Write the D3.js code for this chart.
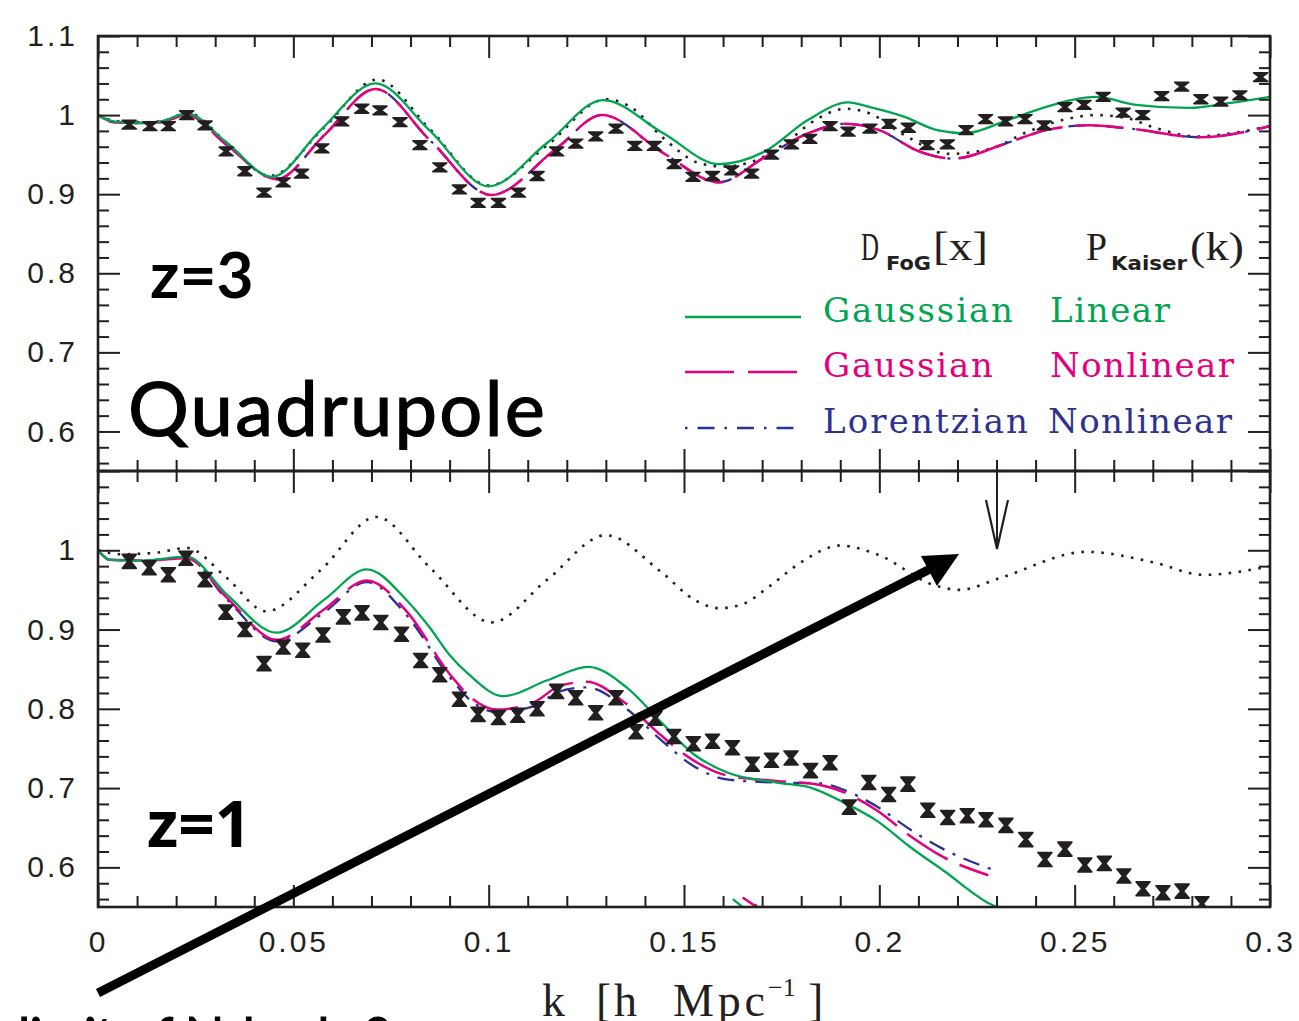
<!DOCTYPE html>
<html>
<head>
<meta charset="utf-8">
<script src="https://cdn.jsdelivr.net/npm/d3@7"></script>
<style>
  body { margin: 0; background: #fff; }
  svg { display: block; }
</style>
</head>
<body>
<svg id="chart" width="1299" height="1021"></svg>
<script>
// ---- data ----
// top panel, z=3
var topDotK   = [0, 0.005, 0.012, 0.017, 0.023, 0.033, 0.044, 0.058, 0.0715, 0.085, 0.1, 0.115, 0.13, 0.1364, 0.1447, 0.154, 0.16, 0.168, 0.176, 0.184, 0.1914, 0.1976, 0.2063, 0.218, 0.2289, 0.2371, 0.2471, 0.2553, 0.2635, 0.2699, 0.2817, 0.29, 0.3];
var topDotV   = [1.0, 0.992, 0.991, 0.993, 1.003, 0.965, 0.923, 0.985, 1.045, 0.982, 0.911, 0.962, 1.020, 1.010, 0.971, 0.939, 0.935, 0.942, 0.965, 0.995, 1.008, 1.002, 0.975, 0.951, 0.958, 0.977, 0.994, 1.0, 0.996, 0.985, 0.973, 0.977, 0.986];
var topGreenK = [0, 0.004, 0.01, 0.016, 0.0228, 0.033, 0.0445, 0.057, 0.071, 0.085, 0.1, 0.115, 0.1293, 0.1447, 0.159, 0.1707, 0.1818, 0.192, 0.1976, 0.2063, 0.2148, 0.222, 0.232, 0.240, 0.2491, 0.2554, 0.2657, 0.2793, 0.2895, 0.3];
var topGreenV = [1.0, 0.992, 0.990, 0.992, 1.002, 0.965, 0.922, 0.981, 1.040, 0.980, 0.910, 0.965, 1.019, 0.977, 0.938, 0.954, 0.994, 1.016, 1.010, 0.998, 0.981, 0.977, 0.992, 1.006, 1.019, 1.023, 1.013, 1.009, 1.015, 1.023];
var topMagK   = [0, 0.004, 0.01, 0.016, 0.0228, 0.033, 0.0457, 0.058, 0.071, 0.085, 0.1007, 0.1174, 0.129, 0.1447, 0.159, 0.1707, 0.1818, 0.1912, 0.2, 0.2102, 0.219, 0.2323, 0.2426, 0.2537, 0.2639, 0.282, 0.3];
var topMagV   = [1.0, 0.991, 0.990, 0.991, 1.000, 0.962, 0.919, 0.975, 1.033, 0.968, 0.899, 0.958, 1.000, 0.952, 0.915, 0.947, 0.977, 0.989, 0.981, 0.954, 0.945, 0.964, 0.981, 0.987, 0.983, 0.972, 0.986];
var topBlueV  = [1.0, 0.991, 0.990, 0.991, 1.000, 0.962, 0.919, 0.975, 1.033, 0.968, 0.899, 0.958, 1.000, 0.952, 0.915, 0.947, 0.977, 0.989, 0.981, 0.954, 0.945, 0.964, 0.981, 0.987, 0.983, 0.972, 0.986];
var topPtsK = [0.0080,0.0133,0.0180,0.0227,0.0274,0.0328,0.0376,0.0425,0.0474,0.0521,0.0573,0.0624,0.0675,0.0722,0.0773,0.0824,0.0875,0.0925,0.0973,0.1025,0.1076,0.1124,0.1174,0.1223,0.1274,0.1326,0.1374,0.1424,0.1475,0.1523,0.1573,0.1622,0.1673,0.1724,0.1775,0.1822,0.1874,0.1920,0.1976,0.2025,0.2074,0.2122,0.2174,0.2222,0.2272,0.2323,0.2373,0.2422,0.2475,0.2524,0.2573,0.2624,0.2674,0.2723,0.2774,0.2823,0.2874,0.2923,0.2976];
var topPtsV = [0.988,0.986,0.986,1.000,0.987,0.954,0.929,0.902,0.915,0.926,0.958,0.992,1.008,1.006,0.991,0.962,0.934,0.906,0.889,0.889,0.902,0.923,0.954,0.964,0.973,0.983,0.961,0.961,0.938,0.922,0.923,0.930,0.926,0.950,0.963,0.970,0.986,0.979,0.983,0.989,0.984,0.962,0.963,0.981,0.995,0.992,0.995,0.987,1.010,1.013,1.023,1.003,1.000,1.024,1.036,1.020,1.017,1.025,1.048];
var topErr = 0.0055;

// bottom panel, z=1
var botDotK   = [0, 0.006, 0.015, 0.0227, 0.033, 0.043, 0.057, 0.0713, 0.085, 0.1008, 0.115, 0.130, 0.1438, 0.1532, 0.159, 0.165, 0.172, 0.18, 0.19, 0.1993, 0.2146, 0.2206, 0.2309, 0.253, 0.27, 0.283, 0.3];
var botDotV   = [1.0, 0.995, 0.997, 1.003, 0.965, 0.923, 0.975, 1.042, 0.978, 0.909, 0.963, 1.019, 0.974, 0.936, 0.927, 0.932, 0.955, 0.985, 1.006, 0.995, 0.955, 0.950, 0.965, 0.998, 0.985, 0.969, 0.980];
var botGreenK = [0, 0.003, 0.0115, 0.0227, 0.033, 0.0457, 0.058, 0.0688, 0.079, 0.085, 0.09, 0.095, 0.1037, 0.115, 0.1255, 0.1353, 0.1438, 0.1524, 0.1609, 0.1737, 0.1822, 0.1908, 0.1993, 0.2078, 0.2164, 0.2283, 0.232];
var botGreenV = [1.0, 0.988, 0.987, 0.992, 0.944, 0.896, 0.938, 0.976, 0.937, 0.902, 0.868, 0.843, 0.816, 0.836, 0.853, 0.827, 0.785, 0.743, 0.720, 0.707, 0.701, 0.682, 0.659, 0.626, 0.596, 0.554, 0.546];
var botMagK   = [0, 0.003, 0.0115, 0.0227, 0.033, 0.0457, 0.058, 0.0688, 0.079, 0.09, 0.096, 0.102, 0.1115, 0.1182, 0.125, 0.1353, 0.1438, 0.1524, 0.1609, 0.1737, 0.1848, 0.1908, 0.1993, 0.2078, 0.2164, 0.2279];
var botMagV   = [1.0, 0.988, 0.987, 0.990, 0.940, 0.887, 0.926, 0.962, 0.923, 0.844, 0.812, 0.799, 0.808, 0.829, 0.834, 0.806, 0.768, 0.735, 0.716, 0.709, 0.704, 0.695, 0.672, 0.640, 0.613, 0.590];
var botBlueK  = [0, 0.003, 0.0115, 0.0227, 0.033, 0.0457, 0.058, 0.0688, 0.079, 0.09, 0.096, 0.102, 0.1115, 0.1182, 0.125, 0.1353, 0.1438, 0.1524, 0.1609, 0.1737, 0.1848, 0.1908, 0.1993, 0.2078, 0.2164, 0.2291];
var botBlueV  = [1.0, 0.988, 0.987, 0.990, 0.938, 0.885, 0.922, 0.960, 0.918, 0.840, 0.808, 0.796, 0.803, 0.822, 0.827, 0.800, 0.762, 0.728, 0.711, 0.707, 0.706, 0.698, 0.677, 0.648, 0.623, 0.597];
// short curve pieces poking in just above the k axis
var stubGreenK = [0.1625, 0.1660], stubGreenV = [0.560, 0.546];
var stubMagK   = [0.1650, 0.1698], stubMagV   = [0.562, 0.546];
var stubBlueK  = [0.1680, 0.1702], stubBlueV  = [0.553, 0.547];
var botPtsK = [0.0080,0.0131,0.0180,0.0225,0.0274,0.0327,0.0376,0.0425,0.0474,0.0524,0.0576,0.0628,0.0676,0.0724,0.0777,0.0826,0.0875,0.0925,0.0973,0.1025,0.1074,0.1124,0.1174,0.1223,0.1274,0.1326,0.1377,0.1426,0.1474,0.1524,0.1573,0.1624,0.1675,0.1724,0.1774,0.1824,0.1874,0.1923,0.1973,0.2024,0.2073,0.2124,0.2175,0.2225,0.2273,0.2324,0.2375,0.2424,0.2475,0.2526,0.2576,0.2626,0.2675,0.2726,0.2775,0.2826,0.1822];
var botPtsV = [0.986,0.978,0.969,0.990,0.963,0.922,0.900,0.857,0.878,0.874,0.893,0.916,0.921,0.909,0.894,0.861,0.843,0.812,0.793,0.789,0.792,0.800,0.822,0.814,0.795,0.814,0.771,0.788,0.765,0.756,0.759,0.751,0.730,0.735,0.738,0.722,0.732,0.676,0.707,0.692,0.705,0.672,0.663,0.665,0.660,0.653,0.635,0.610,0.623,0.603,0.605,0.589,0.573,0.568,0.570,0.554,0.541];
var botErr = 0.0088;

var xMajor = [0, 0.05, 0.1, 0.15, 0.2, 0.25, 0.3];
var yMajor = [0.6, 0.7, 0.8, 0.9, 1.0, 1.1];

var legendRows = [
  {fog: "Gausssian",  kaiser: "Linear",    color: "#00a551", style: "solid"},
  {fog: "Gaussian",   kaiser: "Nonlinear", color: "#e6007e", style: "dash"},
  {fog: "Lorentzian", kaiser: "Nonlinear", color: "#2e3192", style: "dashdot"}
];

// ---- layout ----
var svg = d3.select("#chart");
var left = 98, right = 1270, top0 = 36, mid = 471, bot = 907;
var ink = "#231f20";
var green = "#00a551", magenta = "#e6007e", blue = "#2e3192";

var x = d3.scaleLinear().domain([0, 0.3]).range([left, right]);
var yTop = d3.scaleLinear().domain([0.55, 1.1]).range([mid, top0]);
var yBot = d3.scaleLinear().domain([0.55, 1.1]).range([bot, mid]);

var defs = svg.append("defs");
defs.append("clipPath").attr("id", "clipTop").append("rect")
  .attr("x", left).attr("y", top0).attr("width", right - left).attr("height", mid - top0);
defs.append("clipPath").attr("id", "clipBot").append("rect")
  .attr("x", left).attr("y", mid).attr("width", right - left).attr("height", bot - mid);

var styles = {
  dot:     {color: ink,     width: 2.6, dash: "2.6,7.4"},
  solid:   {color: green,   width: 2.3, dash: null},
  dash:    {color: magenta, width: 2.5, dash: "48,13"},
  dashdot: {color: blue,    width: 2.3, dash: "3,9,17,9"}
};

function pairs(ks, vs) { return ks.map(function(k, i) { return [k, vs[i]]; }); }

function hourglass(cx, cy, h) {
  var w = 7;
  return "M" + (cx - w) + "," + (cy - h) + "H" + (cx + w) + "L" + (cx + 1.3) + "," + cy +
         "L" + (cx + w) + "," + (cy + h) + "H" + (cx - w) + "L" + (cx - 1.3) + "," + cy + "Z";
}

function drawCurve(g, y, ks, vs, st) {
  var line = d3.line().x(function(d) { return x(d[0]); }).y(function(d) { return y(d[1]); })
    .curve(d3.curveMonotoneX);
  g.append("path").datum(pairs(ks, vs))
    .attr("d", line)
    .attr("fill", "none")
    .attr("stroke", styles[st].color)
    .attr("stroke-width", styles[st].width)
    .attr("stroke-dasharray", styles[st].dash);
}

function drawPoints(g, y, ks, vs, err) {
  g.selectAll(".pt").data(pairs(ks, vs)).enter().append("path")
    .attr("class", "pt")
    .attr("d", function(d) {
      var h = Math.abs(y(d[1] + err) - y(d[1]));
      return hourglass(x(d[0]), y(d[1]), h);
    })
    .attr("fill", ink)
    .attr("stroke", ink)
    .attr("stroke-width", 1.6)
    .attr("stroke-linejoin", "round");
}

// ---- panels ----
var gTop = svg.append("g").attr("clip-path", "url(#clipTop)");
drawCurve(gTop, yTop, topDotK, topDotV, "dot");
drawCurve(gTop, yTop, topMagK, topBlueV, "dashdot");
drawCurve(gTop, yTop, topMagK, topMagV, "dash");
drawCurve(gTop, yTop, topGreenK, topGreenV, "solid");
drawPoints(gTop, yTop, topPtsK, topPtsV, topErr);

var gBot = svg.append("g").attr("clip-path", "url(#clipBot)");
drawCurve(gBot, yBot, botDotK, botDotV, "dot");
drawCurve(gBot, yBot, botBlueK, botBlueV, "dashdot");
drawCurve(gBot, yBot, botMagK, botMagV, "dash");
drawCurve(gBot, yBot, botGreenK, botGreenV, "solid");
drawCurve(gBot, yBot, stubBlueK, stubBlueV, "dashdot");
drawCurve(gBot, yBot, stubMagK, stubMagV, "dash");
drawCurve(gBot, yBot, stubGreenK, stubGreenV, "solid");
drawPoints(gBot, yBot, botPtsK, botPtsV, botErr);

// ---- axes ----
var xMinor = d3.range(1, 30).map(function(i) { return i / 100; })
  .filter(function(v) { return Math.abs(v * 20 - Math.round(v * 20)) > 1e-6; });
var yMinor = d3.range(28, 55).map(function(i) { return i / 50; })
  .filter(function(v) { return Math.abs(v * 10 - Math.round(v * 10)) > 1e-6; });
var fmt = d3.format("~g");

function styleAxis(g) {
  g.select(".domain").remove();
  g.selectAll(".tick line").attr("stroke", ink).attr("stroke-width", 2);
  g.selectAll(".tick text")
    .attr("fill", ink)
    .style("font-family", "'Liberation Sans', Arial, sans-serif")
    .style("font-size", "30px")
    .style("letter-spacing", "3px");
}

function panelAxes(y, labelTicks, showX) {
  [[d3.axisLeft, left], [d3.axisRight, right]].forEach(function(a, i) {
    svg.append("g").attr("transform", "translate(" + a[1] + ",0)")
      .call(a[0](y).tickValues(yMajor).tickSize(-22).tickPadding(20)
        .tickFormat(i === 0 ? function(v) { return labelTicks.indexOf(v) >= 0 ? fmt(v) : ""; } : ""))
      .call(styleAxis);
    svg.append("g").attr("transform", "translate(" + a[1] + ",0)")
      .call(a[0](y).tickValues(yMinor).tickSize(-11).tickFormat(""))
      .call(styleAxis);
  });
  var y0 = y.range()[1], y1 = y.range()[0];
  svg.append("g").attr("transform", "translate(0," + y0 + ")")
    .call(d3.axisTop(x).tickValues(xMajor).tickSize(-22).tickFormat("")).call(styleAxis);
  svg.append("g").attr("transform", "translate(0," + y0 + ")")
    .call(d3.axisTop(x).tickValues(xMinor).tickSize(-11).tickFormat("")).call(styleAxis);
  svg.append("g").attr("transform", "translate(0," + y1 + ")")
    .call(d3.axisBottom(x).tickValues(xMajor).tickSize(-22).tickPadding(24)
      .tickFormat(showX ? fmt : ""))
    .call(styleAxis);
  svg.append("g").attr("transform", "translate(0," + y1 + ")")
    .call(d3.axisBottom(x).tickValues(xMinor).tickSize(-11).tickFormat("")).call(styleAxis);
  svg.append("rect")
    .attr("x", left).attr("y", y0).attr("width", right - left).attr("height", y1 - y0)
    .attr("fill", "none").attr("stroke", ink).attr("stroke-width", 2.6);
}
panelAxes(yTop, [0.6, 0.7, 0.8, 0.9, 1.0, 1.1], false);
panelAxes(yBot, [0.6, 0.7, 0.8, 0.9, 1.0], true);

// ---- legend ----
var serif = "'Liberation Serif', 'DejaVu Serif', serif";
var slab = "'DejaVu Serif', serif";
var head = svg.append("g").attr("fill", ink);
head.append("text").attr("x", 861).attr("y", 260).attr("textLength", 18).attr("lengthAdjust", "spacingAndGlyphs")
  .style("font-family", serif).style("font-size", "40px").text("D");
head.append("text").attr("x", 886).attr("y", 270).attr("textLength", 45).attr("lengthAdjust", "spacingAndGlyphs")
  .style("font-family", "'DejaVu Sans', sans-serif").style("font-weight", "bold").style("font-size", "19px").text("FoG");
head.append("text").attr("x", 933).attr("y", 260).attr("textLength", 55).attr("lengthAdjust", "spacingAndGlyphs")
  .style("font-family", serif).style("font-size", "40px").text("[x]");
head.append("text").attr("x", 1086).attr("y", 260).attr("textLength", 21).attr("lengthAdjust", "spacingAndGlyphs")
  .style("font-family", serif).style("font-size", "40px").text("P");
head.append("text").attr("x", 1111).attr("y", 270).attr("textLength", 76).attr("lengthAdjust", "spacingAndGlyphs")
  .style("font-family", "'DejaVu Sans', sans-serif").style("font-weight", "bold").style("font-size", "19px").text("Kaiser");
head.append("text").attr("x", 1190).attr("y", 260).attr("textLength", 54).attr("lengthAdjust", "spacingAndGlyphs")
  .style("font-family", serif).style("font-size", "40px").text("(k)");

var rowY = [317, 372, 428];
var fogW = [190, 170, 205], kaiserW = [120, 184, 184];
legendRows.forEach(function(r, i) {
  var st = styles[r.style];
  svg.append("line")
    .attr("x1", 685).attr("x2", 801).attr("y1", rowY[i]).attr("y2", rowY[i])
    .attr("stroke", r.color).attr("stroke-width", st.width)
    .attr("stroke-dasharray", r.style === "dash" ? "49,14" : (r.style === "dashdot" ? "2.5,10,17,10" : null));
  svg.append("text").attr("x", 823).attr("y", rowY[i] + 5).attr("textLength", fogW[i])
    .attr("fill", r.color).style("font-family", slab).style("font-size", "34px").text(r.fog);
  svg.append("text").attr("x", i === 2 ? 1048 : 1050).attr("y", rowY[i] + 5).attr("textLength", kaiserW[i])
    .attr("fill", r.color).style("font-family", slab).style("font-size", "34px").text(r.kaiser);
});

// ---- panel labels ----
var gill = "Lato, 'Open Sans', sans-serif";
svg.append("text").attr("x", 150).attr("y", 298).attr("fill", "#000")
  .style("font-family", gill).style("font-weight", "bold").style("font-size", "64px").text("z=3");
svg.append("text").attr("x", 128).attr("y", 436).attr("fill", "#000").attr("textLength", 417)
  .attr("stroke", "#000").attr("stroke-width", 1.2)
  .style("font-family", gill).style("font-size", "76px").text("Quadrupole");
svg.append("text").attr("x", 147).attr("y", 847).attr("fill", "#000")
  .style("font-family", "'Open Sans', Lato, sans-serif").style("font-weight", "bold").style("font-size", "64px").text("z=1");

// ---- k axis title (cut by the bottom edge, as in the figure) ----
var xt = svg.append("text").attr("y", 1016).attr("fill", ink)
  .style("font-family", serif).style("font-size", "46px");
xt.append("tspan").attr("x", 542).text("k");
xt.append("tspan").attr("x", 596).text("[");
xt.append("tspan").attr("x", 614).text("h");
xt.append("tspan").attr("x", 673).attr("textLength", 92).text("Mpc");
xt.append("tspan").attr("x", 768).attr("dy", -20).style("font-size", "26px").text("\u22121");
xt.append("tspan").attr("x", 808).attr("dy", 20).text("]");

// ---- annotation at the bottom, cut by the frame ----
svg.append("text").attr("x", 18).attr("y", 1055).attr("fill", "#000").attr("textLength", 372)
  .attr("stroke", "#000").attr("stroke-width", 1)
  .style("font-family", gill).style("font-size", "52px").text("limit of N-body ?");

// ---- arrows ----
svg.append("line").attr("x1", 98).attr("y1", 993).attr("x2", 930).attr("y2", 569)
  .attr("stroke", "#000").attr("stroke-width", 9);
svg.append("path").attr("d", "M959,554L921,556L937,586Z").attr("fill", "#000");

svg.append("line").attr("x1", 997).attr("y1", mid).attr("x2", 997).attr("y2", 549)
  .attr("stroke", ink).attr("stroke-width", 2);
svg.append("path").attr("d", "M986,500L997,549L1008,500")
  .attr("fill", "none").attr("stroke", ink).attr("stroke-width", 2.2);
</script>
</body>
</html>
